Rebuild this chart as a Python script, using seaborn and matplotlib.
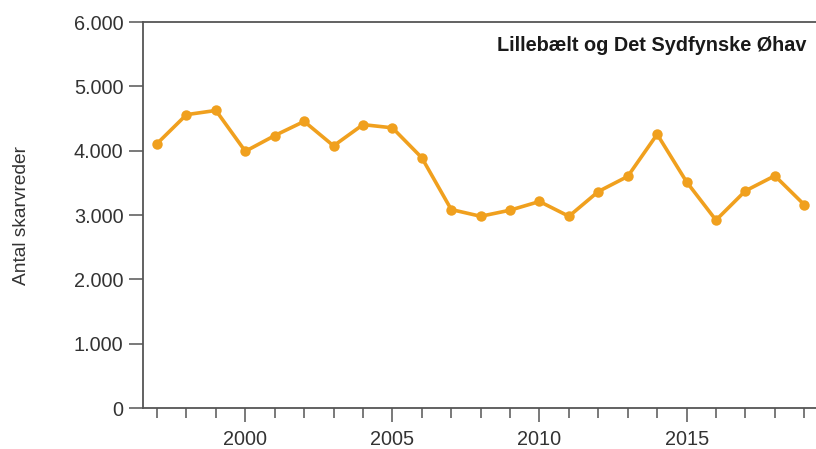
import numpy as np
import pandas as pd
import matplotlib
matplotlib.use("Agg")
import matplotlib.pyplot as plt
from matplotlib.ticker import FuncFormatter, MultipleLocator
import seaborn as sns

# Data
years = list(range(1997, 2020))
nests = [4110, 4560, 4625, 3990, 4235, 4455, 4075, 4405, 4355, 3890, 3085, 2980,
         3075, 3210, 2980, 3365, 3600, 4255, 3515, 2920, 3375, 3610, 3160]
title = "Lillebælt og Det Sydfynske Øhav"
ylabel = "Antal skarvreder"

df = pd.DataFrame({"year": years, "nests": nests})

sns.set_style("ticks")
plt.rcParams["font.family"] = ["Liberation Sans", "DejaVu Sans"]

orange = "#F0A01E"
axis_col = "#555555"
text_col = "#333333"

fig = plt.figure(figsize=(8.16, 4.49), dpi=100)
ax = fig.add_axes([0.1752, 0.0913, 0.8248, 0.8597])

sns.lineplot(data=df, x="year", y="nests", ax=ax, color=orange, linewidth=2.6,
             marker="o", markersize=7.5, markeredgewidth=0, markerfacecolor=orange)

ax.set_xlim(1996.52, 2019.4)
ax.set_ylim(0, 6000)
ax.xaxis.set_major_locator(MultipleLocator(5))
ax.xaxis.set_minor_locator(MultipleLocator(1))
ax.yaxis.set_major_locator(MultipleLocator(1000))
ax.yaxis.set_major_formatter(FuncFormatter(lambda v, p: f"{int(v):,}".replace(",", ".")))

ax.set_xlabel("")
ax.set_ylabel(ylabel, fontsize=13.8, color=text_col)
ax.yaxis.set_label_coords(-0.168, 0.5)

ax.tick_params(axis="y", which="major", direction="out", length=10, width=1.1,
               color=axis_col, labelsize=14.3, labelcolor=text_col, pad=4)
ax.tick_params(axis="x", which="major", direction="out", length=10, width=1.1,
               color=axis_col, labelsize=14.3, labelcolor=text_col, pad=6)
ax.tick_params(axis="x", which="minor", direction="out", length=7, width=1.1,
               color=axis_col)

for side in ["left", "bottom", "top"]:
    ax.spines[side].set_color(axis_col)
    ax.spines[side].set_linewidth(1.3)
ax.spines["right"].set_visible(False)
ax.spines["top"].set_visible(True)

ax.text(0.985, 0.94, title, transform=ax.transAxes, ha="right", va="center",
        fontsize=14.3, fontweight="bold", color="#1a1a1a")

fig.savefig("out.png", dpi=100)
